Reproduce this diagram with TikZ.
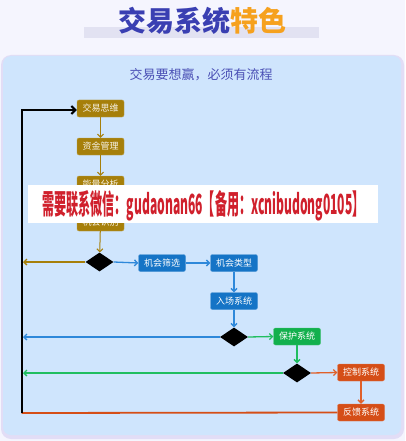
\documentclass[tikz,border=0pt]{standalone}
\usepackage{fontspec}
\setmainfont{Noto Sans CJK SC}
\usetikzlibrary{shapes.geometric,arrows.meta}
\definecolor{pagebg}{HTML}{F5F5FE}
\definecolor{barc}{HTML}{E2E2F2}
\definecolor{panelc}{HTML}{CFE5FD}
\definecolor{shadowc}{HTML}{E2DDF6}
\definecolor{titleblue}{HTML}{3A3FB2}
\definecolor{titleorange}{HTML}{F6A11E}
\definecolor{subc}{HTML}{4A4FB5}
\definecolor{goldc}{HTML}{A67F0A}
\definecolor{bluec}{HTML}{1574C6}
\definecolor{bluel}{HTML}{2E88DA}
\definecolor{greenc}{HTML}{12B04D}
\definecolor{greenl}{HTML}{20BE60}
\definecolor{orangec}{HTML}{D54E17}
\definecolor{orangel}{HTML}{E0602A}
\definecolor{wmred}{HTML}{D0202C}
\tikzset{
  box/.style={rounded corners=2pt, minimum width=47pt, minimum height=17pt, inner sep=0pt,
    font=\fontsize{9}{9}\selectfont},
  gbox/.style={box, fill=goldc, draw=goldc!75!white, text=white!90!goldc},
  bbox/.style={box, fill=bluec, draw=bluec!75!white, text=white},
  grbox/.style={box, fill=greenc, draw=greenc!75!white, text=white},
  obox/.style={box, fill=orangec, draw=orangec!75!white, text=white},
  dia/.style={diamond, fill=black, minimum width=28pt, minimum height=19pt, inner sep=0pt},
  arr/.style={-{Straight Barb[length=3pt,width=6pt]}, line width=1pt},
}
\begin{document}
\begin{tikzpicture}[x=1pt,y=-1pt]
\useasboundingbox (0,0) rectangle (405,441);
\fill[pagebg] (0,0) rectangle (405,441);
\fill[barc] (84,27) rectangle (319,38);
\node[inner sep=0pt] (title) at (202,21) {\fontsize{28}{28}\selectfont\bfseries\color{titleblue}交易系统\color{titleorange}特色};
\fill[shadowc, rounded corners=10pt] (1,55) rectangle (404,439);
\fill[panelc, rounded corners=8pt] (3,56) rectangle (401,435);
\node[inner sep=0pt, text=subc, font=\fontsize{13}{13}\selectfont] (sub) at (201,75) {交易要想赢，必须有流程};

\node[gbox] (n1) at (100.5,108.5) {交易思维};
\node[gbox] (n2) at (100.5,146.5) {资金管理};
\node[gbox] (n3) at (100.5,184.5) {能量分析};
\node[gbox] (n4) at (100.5,222.5) {机会识别};
\node[dia] (d1) at (99.5,262) {};
\node[bbox] (c1) at (162,263) {机会筛选};
\node[bbox] (c2) at (234,263) {机会类型};
\node[bbox] (c3) at (234,301) {入场系统};
\node[dia] (d2) at (234,337) {};
\node[grbox] (p1) at (297,336.5) {保护系统};
\node[dia] (d3) at (297,373) {};
\node[obox] (k1) at (361,372.5) {控制系统};
\node[obox] (f1) at (361,412.5) {反馈系统};

\coordinate (BL) at (21.5,413);
\coordinate (TL) at (21.5,110);
\coordinate (L1) at (23,262);
\coordinate (L2) at (23,337);
\coordinate (L3) at (23,373);

\draw[arr, goldc] (n1) -- (n2);
\draw[arr, goldc] (n2) -- (n3);
\draw[arr, goldc] (n3) -- (n4);
\draw[arr, goldc] (n4) -- (d1);
\draw[arr, goldc, line width=1.3pt] (d1.west) -- (L1);
\draw[arr, bluel, line width=1.3pt] (d1.east) -- (c1.west);
\draw[arr, bluel, line width=1.3pt] (c1.east) -- (c2.west);
\draw[arr, bluel, line width=1.3pt] (c2) -- (c3);
\draw[arr, bluel, line width=1.3pt] (c3) -- (d2);
\draw[arr, bluel, line width=1.3pt] (d2.west) -- (L2);
\draw[arr, greenl, line width=1.3pt] (d2.east) -- (p1.west);
\draw[arr, greenl, line width=1.3pt] (p1) -- (d3);
\draw[arr, greenl, line width=1.3pt] (d3.west) -- (L3);
\draw[arr, orangel, line width=1.3pt] (d3.east) -- (k1.west);
\draw[arr, orangel, line width=1.3pt] (k1) -- (f1);
\draw[orangec, line width=1.8pt] (f1.west) -- (BL);
\draw[black, line width=2pt, -{Straight Barb[length=4pt,width=8pt]}] (BL) -- (TL) -- (n1.west |- TL);

\node[fill=white, minimum width=350pt, minimum height=38pt, inner sep=0pt] (wm) at (203,204) {};
\node[inner sep=0pt] (wmt) at (203.5,205.5) {\resizebox{322pt}{24pt}{\bfseries\color{wmred}需要联系微信：gudaonan66【备用：xcnibudong0105】}};
\end{tikzpicture}
\end{document}
